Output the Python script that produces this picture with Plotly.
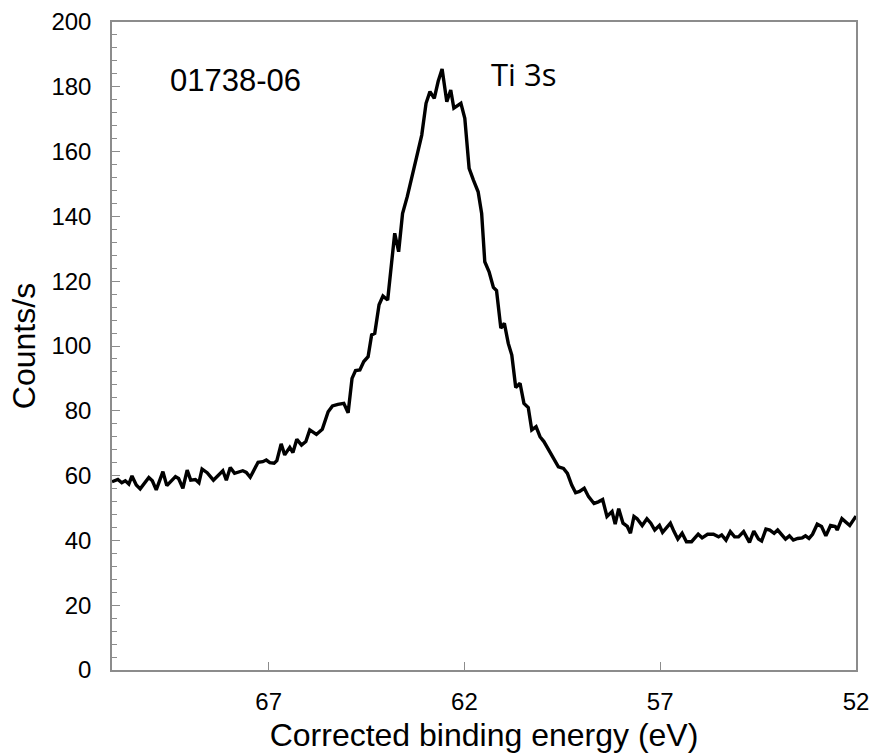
import plotly.graph_objects as go

# Corrected binding energy (eV) and counts/s
energy = [71.00, 70.85, 70.75, 70.66, 70.57, 70.49, 70.38, 70.28, 70.06, 69.97,
          69.87, 69.70, 69.60, 69.38, 69.30, 69.19, 69.08, 68.99, 68.87, 68.78,
          68.70, 68.57, 68.41, 68.28, 68.17, 68.08, 67.98, 67.87, 67.79, 67.66,
          67.57, 67.47, 67.27, 67.15, 67.06, 66.97, 66.86, 66.79, 66.68, 66.59,
          66.46, 66.38, 66.28, 66.16, 66.05, 65.95, 65.78, 65.63, 65.48, 65.37,
          65.23, 65.08, 64.97, 64.87, 64.78, 64.67, 64.57, 64.46, 64.37, 64.29,
          64.18, 64.08, 63.96, 63.78, 63.68, 63.58, 63.46, 63.35, 63.22, 63.09,
          62.98, 62.88, 62.77, 62.67, 62.57, 62.45, 62.35, 62.27, 62.09, 61.99,
          61.88, 61.77, 61.65, 61.56, 61.48, 61.37, 61.26, 61.18, 61.07, 60.98,
          60.88, 60.79, 60.69, 60.58, 60.48, 60.37, 60.28, 60.17, 60.07, 59.97,
          59.84, 59.71, 59.60, 59.47, 59.37, 59.26, 59.16, 59.06, 58.94, 58.83,
          58.69, 58.58, 58.47, 58.36, 58.23, 58.15, 58.06, 57.95, 57.84, 57.76,
          57.67, 57.59, 57.46, 57.34, 57.24, 57.14, 57.02, 56.94, 56.74, 56.65,
          56.55, 56.44, 56.33, 56.20, 56.03, 55.93, 55.79, 55.64, 55.51, 55.43,
          55.32, 55.21, 55.10, 55.00, 54.87, 54.72, 54.61, 54.49, 54.41, 54.30,
          54.20, 54.09, 54.00, 53.80, 53.70, 53.60, 53.49, 53.37, 53.29, 53.20,
          53.11, 52.99, 52.88, 52.77, 52.65, 52.53, 52.48, 52.36, 52.28, 52.16,
          52.06, 52.00]

counts = [58.1, 58.8, 57.8, 58.4, 57.4, 59.9, 57.1, 55.9, 59.4, 58.4,
          55.6, 61.2, 56.9, 59.7, 59.1, 56.1, 61.7, 58.6, 58.8, 57.8,
          62.0, 60.9, 58.6, 60.2, 61.5, 58.6, 62.5, 60.7, 61.0, 61.5,
          61.0, 59.5, 64.1, 64.3, 64.8, 64.0, 63.8, 64.6, 69.8, 66.4,
          68.7, 67.1, 71.2, 69.4, 70.5, 74.1, 72.7, 74.3, 79.7, 81.5,
          82.0, 82.3, 79.4, 90.0, 92.4, 92.6, 95.2, 96.7, 103.4, 103.9,
          112.7, 115.4, 114.2, 134.8, 129.1, 140.9, 146.1, 152.3, 158.4, 165.1,
          174.9, 178.5, 176.4, 181.7, 185.5, 175.4, 179.0, 173.4, 174.9, 170.3,
          154.8, 151.2, 147.6, 140.9, 126.0, 122.9, 118.1, 117.1, 105.5, 107.0,
          100.8, 97.2, 87.2, 88.5, 82.3, 81.0, 74.1, 75.1, 72.0, 70.5,
          67.9, 64.8, 62.7, 62.2, 60.7, 57.1, 54.7, 55.1, 56.1, 53.5,
          51.4, 51.9, 52.6, 47.4, 48.9, 45.0, 49.8, 45.3, 44.3, 42.2,
          47.4, 46.7, 44.6, 46.7, 45.3, 43.2, 44.6, 42.5, 45.3, 42.8,
          40.4, 42.2, 39.6, 39.6, 41.9, 40.8, 41.9, 41.9, 41.1, 41.7,
          40.1, 42.7, 41.1, 41.1, 42.7, 39.4, 42.9, 40.4, 39.8, 43.5,
          43.2, 42.2, 43.2, 40.4, 41.4, 40.1, 40.6, 40.8, 41.4, 40.6,
          41.9, 45.0, 44.3, 41.4, 44.6, 44.3, 43.2, 46.7, 45.8, 44.6,
          46.4, 47.5]

x_tickvals = [67, 62, 57, 52]
y_tickvals = [0, 20, 40, 60, 80, 100, 120, 140, 160, 180, 200]
sample_label = "01738-06"
peak_label = "Ti 3s"

fig = go.Figure()
fig.add_trace(go.Scatter(x=energy, y=counts, mode="lines",
                         line=dict(color="black", width=3.4), showlegend=False))

axis_grey = "#8c8c8c"
font_family = "Liberation Sans, Arial"
fig.update_xaxes(range=[71, 52], tickvals=x_tickvals, ticks="inside", ticklen=8,
                 tickwidth=1.3, tickcolor=axis_grey, showline=True, linecolor=axis_grey,
                 linewidth=1.5, mirror=True, showgrid=False, zeroline=False,
                 automargin=False, ticklabelstandoff=9,
                 tickfont=dict(family=font_family, size=24, color="black"),
                 title=dict(text="Corrected binding energy (eV)",
                            font=dict(family=font_family, size=32, color="black"),
                            standoff=10))
fig.update_yaxes(range=[0, 200], tickvals=y_tickvals, ticks="inside", ticklen=8,
                 tickwidth=1.3, tickcolor=axis_grey, showline=True, linecolor=axis_grey,
                 linewidth=1.5, mirror=True, showgrid=False, zeroline=False,
                 automargin=False, ticklabelstandoff=14,
                 minor=dict(dtick=4, ticks="inside", ticklen=5, tickwidth=1.3,
                            tickcolor=axis_grey, showgrid=False),
                 tickfont=dict(family=font_family, size=24, color="black"),
                 title=dict(text="Counts/s",
                            font=dict(family=font_family, size=32, color="black"),
                            standoff=6))

fig.add_annotation(x=67.84, y=182, text=sample_label, showarrow=False,
                   font=dict(family=font_family, size=31, color="black"))
fig.add_annotation(x=60.50, y=184, text=peak_label, showarrow=False,
                   font=dict(family="Open Sans", size=31, color="black"))

fig.update_layout(width=870, height=754, margin=dict(l=112, r=14, t=22, b=84),
                  plot_bgcolor="white", paper_bgcolor="white")

fig.write_html("out.html")
